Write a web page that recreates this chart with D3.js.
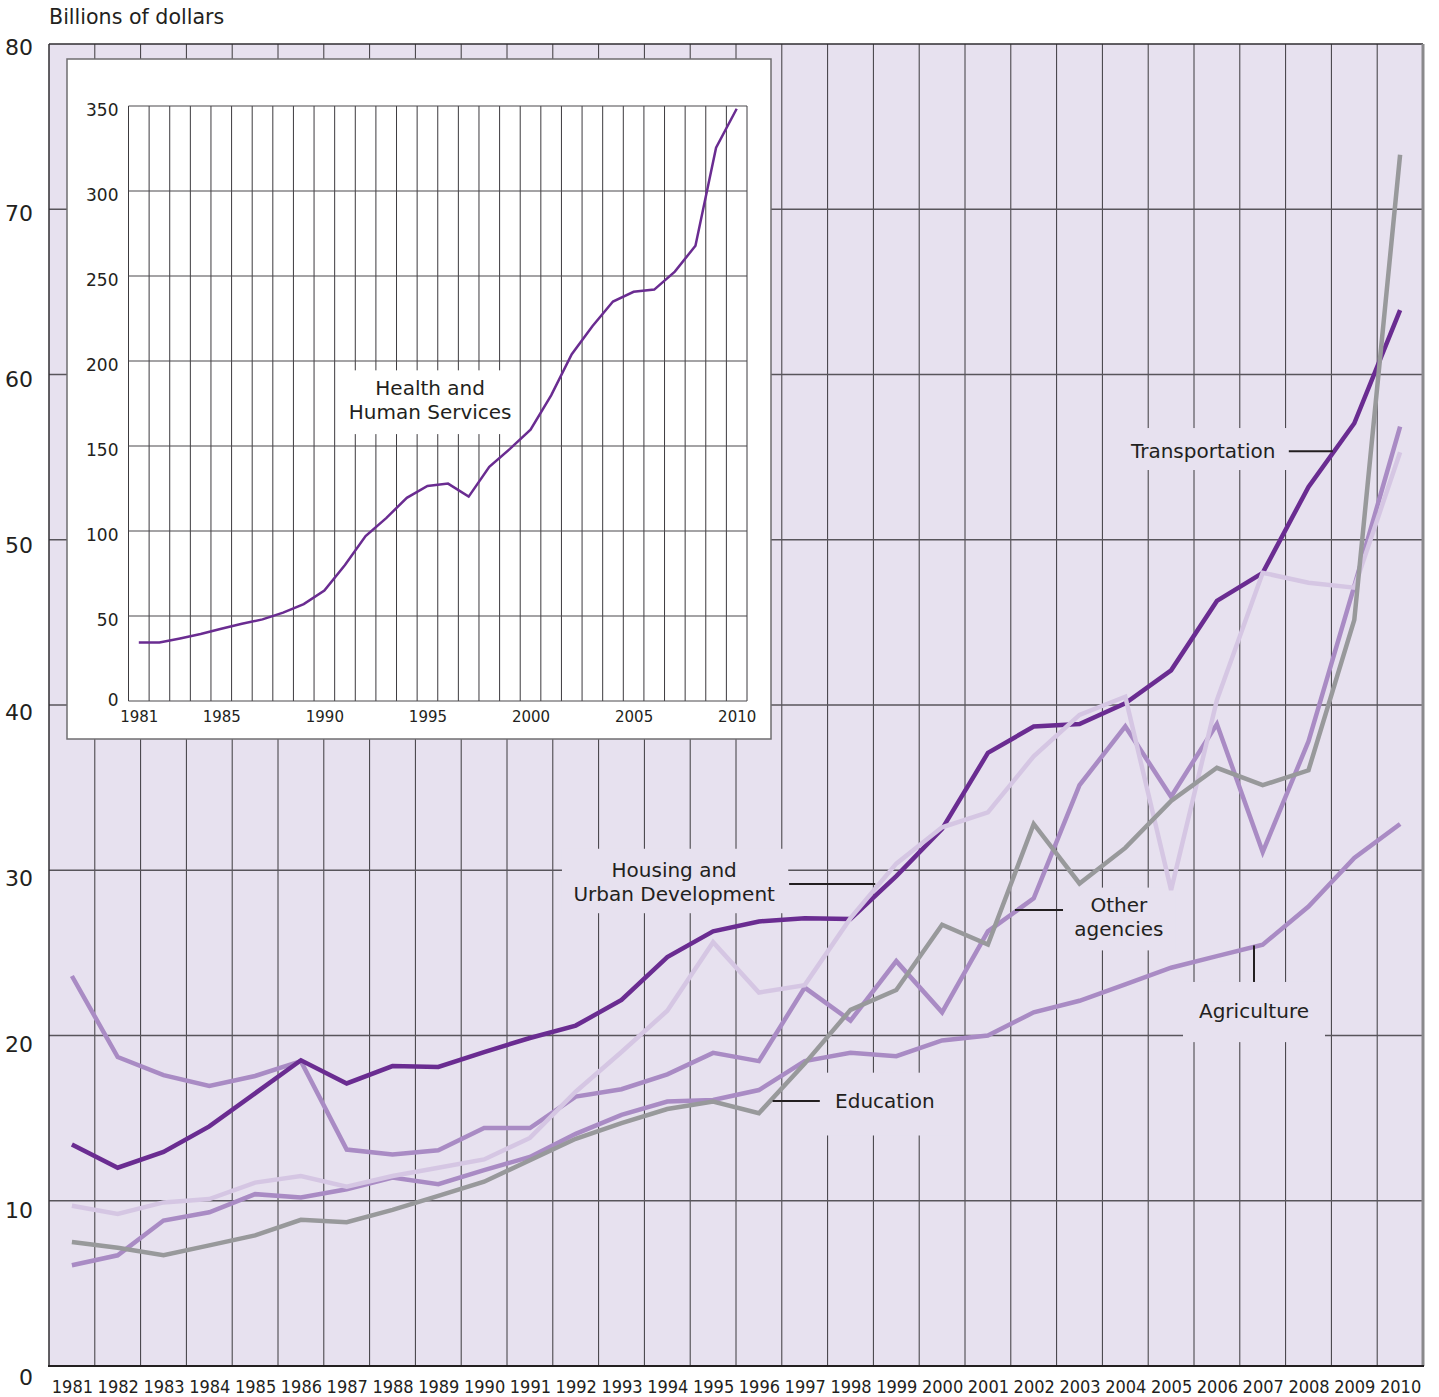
<!DOCTYPE html>
<html>
<head>
<meta charset="utf-8">
<title>Federal spending by agency, 1981-2010</title>
<script src="https://d3js.org/d3.v7.min.js"></script>
<style>
  html, body { margin: 0; padding: 0; background: #fff; }
  text { fill: #231f20; }
</style>
</head>
<body>
<div id="chart"></div>
<script>
// years on the horizontal axis
const years = [1981, 1982, 1983, 1984, 1985, 1986, 1987, 1988, 1989, 1990,
               1991, 1992, 1993, 1994, 1995, 1996, 1997, 1998, 1999, 2000,
               2001, 2002, 2003, 2004, 2005, 2006, 2007, 2008, 2009, 2010];

// billions of dollars
const transportation = [13.4, 12.0, 12.95, 14.5, 16.5, 18.5, 17.1, 18.15, 18.1, 19.0,
                        19.85, 20.6, 22.15, 24.75, 26.3, 26.9, 27.1, 27.05, 29.65, 32.5,
                        37.1, 38.7, 38.85, 40.1, 42.1, 46.3, 48.0, 53.2, 57.05, 63.9];
const housing = [9.7, 9.2, 9.9, 10.1, 11.1, 11.5, 10.85, 11.5, 12.0, 12.5,
                 13.8, 16.6, 19.0, 21.5, 25.65, 22.6, 23.05, 27.1, 30.4, 32.6,
                 33.5, 36.9, 39.4, 40.5, 28.8, 40.3, 48.0, 47.4, 47.1, 55.3];
const otherAgencies = [23.6, 18.7, 17.6, 16.95, 17.55, 18.45, 13.1, 12.8, 13.05, 14.4,
                       14.4, 16.3, 16.75, 17.65, 18.95, 18.45, 22.9, 20.9, 24.5, 21.4,
                       26.3, 28.3, 35.15, 38.7, 34.45, 38.85, 31.1, 37.8, 47.2, 56.85];
const agriculture = [6.1, 6.7, 8.8, 9.3, 10.4, 10.2, 10.7, 11.4, 11.0, 11.85,
                     12.65, 14.05, 15.2, 16.0, 16.1, 16.7, 18.45, 18.95, 18.75, 19.7,
                     20.0, 21.4, 22.1, 23.1, 24.1, 24.8, 25.5, 27.8, 30.75, 32.8];
const education = [7.5, 7.15, 6.7, 7.3, 7.9, 8.85, 8.7, 9.45, 10.3, 11.15,
                   12.45, 13.75, 14.7, 15.55, 16.0, 15.3, 18.3, 21.55, 22.75, 26.7,
                   25.5, 32.8, 29.2, 31.35, 34.2, 36.2, 35.15, 36.05, 45.15, 73.3];
const health = [34.4, 34.4, 36.8, 39.4, 42.5, 45.4, 48.0, 52.0, 57.0, 65.0,
                80.0, 97.0, 107.6, 119.5, 126.5, 127.9, 120.2, 137.8, 148.3, 159.6,
                179.8, 204.0, 220.5, 235.0, 240.7, 242.0, 252.6, 267.8, 325.5, 348.4];

// tick labels
const yTicks = [0, 10, 20, 30, 40, 50, 60, 70, 80];
const insetYTicks = [0, 50, 100, 150, 200, 250, 300, 350];
const insetYearLabels = [1981, 1985, 1990, 1995, 2000, 2005, 2010];

const bg = "#e7e1ef";
const ink = "#231f20";
const labelFont = "'DejaVu Sans', Verdana, sans-serif";
const narrowFont = "'Liberation Sans Narrow', 'DejaVu Sans Condensed', sans-serif";

const svg = d3.select("#chart").append("svg")
    .attr("width", 1439)
    .attr("height", 1397);

svg.append("rect").attr("width", 1439).attr("height", 1397).attr("fill", "#fff");

// main scales
const x = d3.scaleLinear().domain([1980.5, 2010.5]).range([49, 1423]);
const y = d3.scaleLinear().domain([0, 80]).range([1366, 44]);

svg.append("text")
    .attr("x", 49).attr("y", 24)
    .attr("font-family", labelFont).attr("font-size", 20.6)
    .text("Billions of dollars");

svg.append("rect")
    .attr("x", x(1980.5)).attr("y", y(80))
    .attr("width", x(2010.5) - x(1980.5))
    .attr("height", y(0) - y(80))
    .attr("fill", bg);

// grid
const colEdges = d3.range(1981.5, 2010.5, 1);
svg.append("g").selectAll("line")
    .data(colEdges).join("line")
    .attr("x1", d => x(d)).attr("x2", d => x(d))
    .attr("y1", y(80)).attr("y2", y(0))
    .attr("stroke", "#3c3a3e").attr("stroke-width", 1);

svg.append("g").selectAll("line")
    .data(yTicks.filter(d => d > 0 && d < 80)).join("line")
    .attr("x1", x(1980.5)).attr("x2", x(2010.5))
    .attr("y1", d => y(d)).attr("y2", d => y(d))
    .attr("stroke", "#58555b").attr("stroke-width", 1.5);

// frame
svg.append("line").attr("x1", x(1980.5)).attr("x2", x(2010.5)).attr("y1", y(80)).attr("y2", y(80))
    .attr("stroke", "#2f2d30").attr("stroke-width", 1.5);
svg.append("line").attr("x1", x(1980.5)).attr("x2", x(1980.5)).attr("y1", y(80)).attr("y2", y(0))
    .attr("stroke", "#2f2d30").attr("stroke-width", 1.5);
svg.append("line").attr("x1", x(2010.5)).attr("x2", x(2010.5)).attr("y1", y(80)).attr("y2", y(0))
    .attr("stroke", "#8a898c").attr("stroke-width", 3);
svg.append("line").attr("x1", x(1980.5) - 1).attr("x2", x(2010.5) + 1).attr("y1", y(0)).attr("y2", y(0))
    .attr("stroke", ink).attr("stroke-width", 2);

// axes
const yAxis = svg.append("g")
    .attr("transform", `translate(${x(1980.5)},0)`)
    .call(d3.axisLeft(y).tickValues(yTicks).tickSize(0).tickPadding(16))
    .attr("font-family", labelFont).attr("font-size", 22);
yAxis.select(".domain").remove();
yAxis.selectAll(".tick text").attr("y", d => 3 + (80 - d) * 0.1).attr("fill", ink);

const xAxis = svg.append("g")
    .attr("transform", `translate(0,${y(0)})`)
    .call(d3.axisBottom(x).tickValues(years).tickFormat(d3.format("d")).tickSize(0).tickPadding(14))
    .attr("font-family", narrowFont).attr("font-size", 18);
xAxis.select(".domain").remove();
xAxis.selectAll(".tick text").attr("fill", ink);

// label boxes hide the grid behind them
const notes = [
    { lines: ["Transportation"], cx: 2005.7, cy: 55.4, box: [2003.67, 2007.6, 56.76, 54.22],
      leader: [[2007.57, 55.35], [2008.53, 55.35]] },
    { lines: ["Housing and", "Urban Development"], cx: 1994.15, cy: 29.28, box: [1991.7, 1996.64, 31.3, 27.4],
      leader: [[1996.66, 29.17], [1998.54, 29.17]] },
    { lines: ["Education"], cx: 1998.75, cy: 16.04, box: [1997.33, 2000.2, 17.75, 13.95],
      leader: [[1996.3, 16.04], [1997.33, 16.04]] },
    { lines: ["Other", "agencies"], cx: 2003.86, cy: 27.17, box: [2002.67, 2005.1, 28.95, 25.15],
      leader: [[2001.59, 27.6], [2002.64, 27.6]] },
    { lines: ["Agriculture"], cx: 2006.81, cy: 21.5, box: [2005.26, 2008.36, 23.24, 19.6],
      leader: [[2006.81, 25.45], [2006.81, 23.24]] }
];

svg.append("g").selectAll("rect")
    .data(notes).join("rect")
    .attr("x", d => x(d.box[0])).attr("y", d => y(d.box[2]))
    .attr("width", d => x(d.box[1]) - x(d.box[0]))
    .attr("height", d => y(d.box[3]) - y(d.box[2]))
    .attr("fill", bg);

// series
const series = [
    { name: "Agriculture", values: agriculture, color: "#a98bc4" },
    { name: "Other agencies", values: otherAgencies, color: "#a98bc4" },
    { name: "Transportation", values: transportation, color: "#6a2c91" },
    { name: "Housing and Urban Development", values: housing, color: "#d5c6e3" },
    { name: "Education", values: education, color: "#98999b" }
];

const line = d3.line()
    .x((d, i) => x(years[i]))
    .y(d => y(d));

svg.append("g").selectAll("path")
    .data(series).join("path")
    .attr("d", d => line(d.values))
    .attr("fill", "none")
    .attr("stroke", d => d.color)
    .attr("stroke-width", 4.5);

svg.append("g").selectAll("line")
    .data(notes).join("line")
    .attr("x1", d => x(d.leader[0][0])).attr("y1", d => y(d.leader[0][1]))
    .attr("x2", d => x(d.leader[1][0])).attr("y2", d => y(d.leader[1][1]))
    .attr("stroke", ink).attr("stroke-width", 2);

notes.forEach(n => {
    const t = svg.append("text")
        .attr("font-family", labelFont).attr("font-size", 20)
        .attr("text-anchor", "middle");
    n.lines.forEach((s, i) => {
        t.append("tspan")
            .attr("x", x(n.cx))
            .attr("y", y(n.cy) + (i - (n.lines.length - 1) / 2) * 24)
            .attr("dy", "0.35em")
            .text(s);
    });
});

// inset: Health and Human Services
const inset = svg.append("g");
inset.append("rect")
    .attr("x", 67).attr("y", 59).attr("width", 704).attr("height", 680)
    .attr("fill", "#fff").attr("stroke", "#6f6d70").attr("stroke-width", 1.5);

const ix = d3.scaleLinear().domain([1980.5, 2010.5]).range([128.5, 747]);
const iy = d3.scaleLinear().domain([0, 350]).range([701, 106]);

inset.append("g").selectAll("line")
    .data(d3.range(1980.5, 2011, 1)).join("line")
    .attr("x1", d => ix(d)).attr("x2", d => ix(d))
    .attr("y1", iy(350)).attr("y2", iy(0))
    .attr("stroke", "#3c3a3e").attr("stroke-width", 1);

inset.append("g").selectAll("line")
    .data(insetYTicks).join("line")
    .attr("x1", ix(1980.5)).attr("x2", ix(2010.5))
    .attr("y1", d => iy(d)).attr("y2", d => iy(d))
    .attr("stroke", "#4a484c").attr("stroke-width", 1.2);

// white patch behind the inset label
inset.append("rect")
    .attr("x", ix(1990.8)).attr("y", iy(194.5))
    .attr("width", ix(1999.25) - ix(1990.8))
    .attr("height", iy(157) - iy(194.5))
    .attr("fill", "#fff");

inset.append("path")
    .attr("d", d3.line().x((d, i) => ix(years[i])).y(d => iy(d))(health))
    .attr("fill", "none")
    .attr("stroke", "#6a2c91")
    .attr("stroke-width", 2.5);

const iyAxis = inset.append("g")
    .attr("transform", `translate(${ix(1980.5)},0)`)
    .call(d3.axisLeft(iy).tickValues(insetYTicks).tickSize(0).tickPadding(10))
    .attr("font-family", labelFont).attr("font-size", 17);
iyAxis.select(".domain").remove();
iyAxis.selectAll(".tick text").attr("y", d => d === 0 ? -1 : 4).attr("fill", ink);

const ixAxis = inset.append("g")
    .attr("transform", `translate(0,${iy(0)})`)
    .call(d3.axisBottom(ix).tickValues(insetYearLabels).tickFormat(d3.format("d")).tickSize(0).tickPadding(10))
    .attr("font-family", labelFont).attr("font-size", 15);
ixAxis.select(".domain").remove();
ixAxis.selectAll(".tick text").attr("fill", ink);

const it = inset.append("text")
    .attr("font-family", labelFont).attr("font-size", 20)
    .attr("text-anchor", "middle");
["Health and", "Human Services"].forEach((s, i) => {
    it.append("tspan")
        .attr("x", ix(1995.13))
        .attr("y", 388 + i * 24)
        .attr("dy", "0.35em")
        .text(s);
});
</script>
</body>
</html>
